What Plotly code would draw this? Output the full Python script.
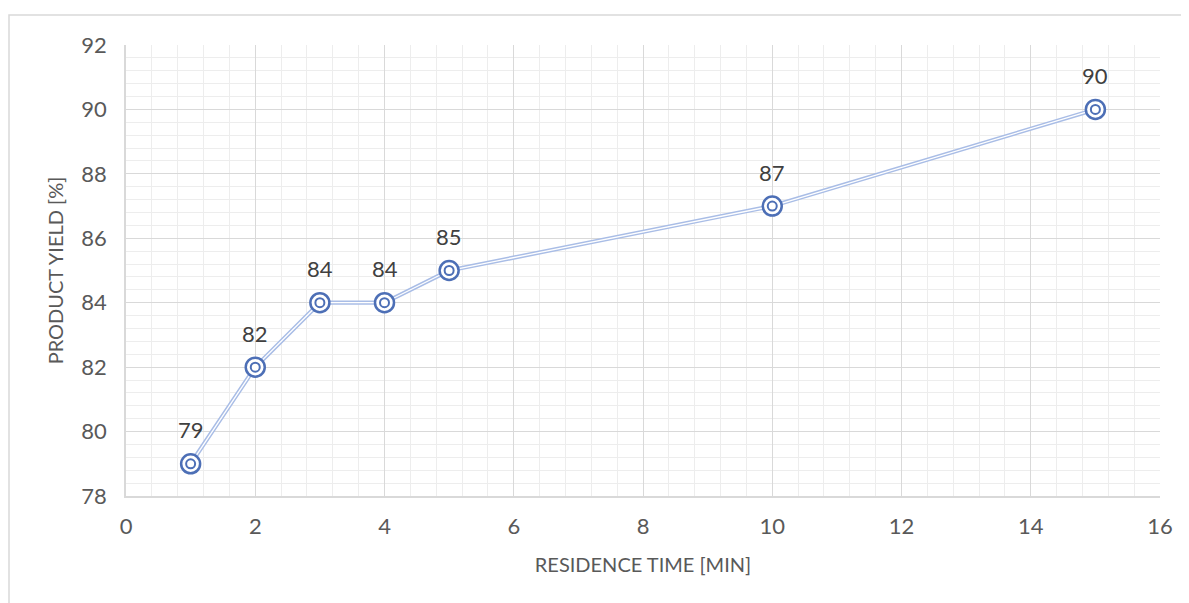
import plotly.graph_objects as go

residence_time = [1, 2, 3, 4, 5, 10, 15]
product_yield = [79, 82, 84, 84, 85, 87, 90]
x_ticks = [0, 2, 4, 6, 8, 10, 12, 14, 16]
y_ticks = [78, 80, 82, 84, 86, 88, 90, 92]

W, H = 1189, 603
ml, mt = 118, 37
pw, ph = 1034, 451
mr = W - ml - pw
mb = H - mt - ph
line_col = "#a9bde6"
mark_col = "#4d6fb6"
font_fam = "Lato, 'Open Sans', sans-serif"

fig = go.Figure()
# double line: light outer, white inner
fig.add_trace(go.Scatter(x=residence_time, y=product_yield, mode="lines",
                         line=dict(color=line_col, width=4.2), hoverinfo="skip", showlegend=False))
fig.add_trace(go.Scatter(x=residence_time, y=product_yield, mode="lines",
                         line=dict(color="white", width=1.3), hoverinfo="skip", showlegend=False))
# double-ring markers
fig.add_trace(go.Scatter(x=residence_time, y=product_yield, mode="markers",
                         marker=dict(symbol="circle", size=19, color="white",
                                     line=dict(color=mark_col, width=2.5)),
                         showlegend=False))
fig.add_trace(go.Scatter(x=residence_time, y=product_yield, mode="markers",
                         marker=dict(symbol="circle-open", size=9, color=mark_col,
                                     line=dict(color=mark_col, width=2)),
                         showlegend=False))

for xv, yv in zip(residence_time, product_yield):
    fig.add_annotation(x=xv, y=yv, text=str(yv), showarrow=False, yshift=34,
                       font=dict(family=font_fam, size=22, color="#404040"))

fig.update_xaxes(range=[0, 16], tickvals=x_ticks, showgrid=True, gridcolor="#d9d9d9", gridwidth=1,
                 minor=dict(dtick=0.4, showgrid=True, gridcolor="#ededed", gridwidth=1),
                 showline=True, linecolor="#d9d9d9", linewidth=1.5, zeroline=False,
                 ticks="", ticklabelstandoff=10,
                 tickfont=dict(family=font_fam, size=22, color="#595959"),
                 title=dict(text="RESIDENCE TIME [MIN]", standoff=20,
                            font=dict(family=font_fam, size=20, color="#595959")))
fig.update_yaxes(range=[78, 92], tickvals=y_ticks, showgrid=True, gridcolor="#d9d9d9", gridwidth=1,
                 minor=dict(dtick=0.4, showgrid=True, gridcolor="#ededed", gridwidth=1),
                 showline=True, linecolor="#d9d9d9", linewidth=1.5, zeroline=False,
                 ticks="", ticklabelstandoff=13,
                 tickfont=dict(family=font_fam, size=22, color="#595959"),
                 title=dict(text="PRODUCT YIELD [%]", standoff=12,
                            font=dict(family=font_fam, size=20, color="#595959")))

fig.add_shape(type="rect", xref="paper", yref="paper",
              x0=(1 - ml) / pw, x1=(1300 - ml) / pw,
              y0=1 - (700 - mt) / ph, y1=1 - (7 - mt) / ph,
              line=dict(color="#d9d9d9", width=1.5), layer="below")

fig.update_layout(width=W, height=H, margin=dict(l=ml, r=mr, t=mt, b=mb),
                  plot_bgcolor="white", paper_bgcolor="white")

fig.write_html("out.html")
